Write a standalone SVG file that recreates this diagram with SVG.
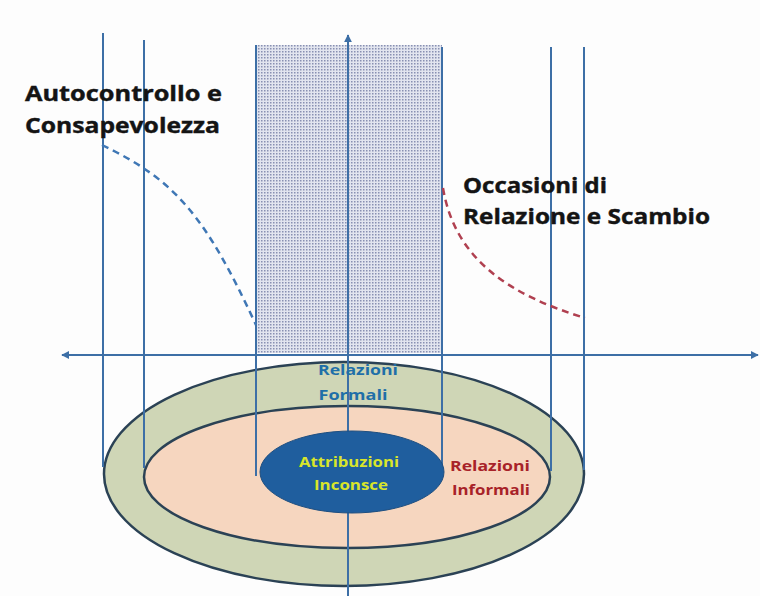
<svg xmlns="http://www.w3.org/2000/svg" width="760" height="596" viewBox="0 0 760 596">
<defs>
<style>
.ln{stroke:#3d6fa6;stroke-width:2;fill:none}
.ax{stroke:#3d6fa6;stroke-width:2;fill:none}
.ring{stroke:#2b4255;stroke-width:2.5}
.big{font-family:"Open Sans","Liberation Sans",sans-serif;font-weight:bold;font-size:21px;fill:#141414;stroke:#141414;stroke-width:0.4}
.lbl{font-family:"Open Sans","Liberation Sans",sans-serif;font-weight:bold;font-size:15px;text-anchor:middle}
</style>
<pattern id="dots" width="3" height="3" patternUnits="userSpaceOnUse">
<rect width="3" height="3" fill="#e2e5ef"/>
<rect x="0" y="0" width="1.5" height="1.5" fill="#8890b2"/>
</pattern>
<marker id="ah" viewBox="0 0 10 10" refX="9" refY="5" markerWidth="4" markerHeight="4" orient="auto-start-reverse">
<path d="M0,0 L10,5 L0,10 z" fill="#3d6fa6"/>
</marker>
</defs>
<rect width="760" height="596" fill="#fdfdfd"/>
<g id="shaded-zone"><rect x="256" y="45" width="186" height="308" fill="url(#dots)"/></g>
<g id="outer-ring"><ellipse cx="344" cy="474" rx="240" ry="112" fill="#cfd6b6" class="ring"/></g>
<g id="inner-ring"><ellipse cx="347" cy="477" rx="203" ry="71" fill="#f6d6bf" class="ring"/></g>
<g id="connectors">
<line class="ln" x1="103" y1="33" x2="103" y2="467"/>
<line class="ln" x1="144" y1="40" x2="144" y2="468"/>
<line class="ln" x1="256" y1="45" x2="256" y2="476"/>
<line class="ln" x1="442" y1="47" x2="442" y2="473"/>
<line class="ln" x1="551" y1="47" x2="551" y2="471"/>
<line class="ln" x1="584" y1="47" x2="584" y2="470"/>
<line class="ax" x1="348" y1="596" x2="348" y2="35" marker-end="url(#ah)"/>
<line class="ax" x1="62" y1="355" x2="758" y2="355" marker-start="url(#ah)" marker-end="url(#ah)"/>
<path d="M102,145 C175,180 205,215 256,325" fill="none" stroke="#3f77b5" stroke-width="2.5" stroke-dasharray="7,5"/>
<path d="M443,188 C455,260 510,295 585,318" fill="none" stroke="#b04050" stroke-width="2.5" stroke-dasharray="7,5"/>
</g>
<g id="core"><ellipse cx="352" cy="472" rx="92" ry="41" fill="#1f5e9e" stroke="#1f4f80" stroke-width="1"/>
<text class="lbl" x="349" y="467" fill="#d9e52a" textLength="100" lengthAdjust="spacingAndGlyphs">Attribuzioni</text>
<text class="lbl" x="351" y="490" fill="#d9e52a" textLength="74" lengthAdjust="spacingAndGlyphs">Inconsce</text></g>
<g id="label-formali"><text class="lbl" x="358" y="375" fill="#1f6fa8" textLength="80" lengthAdjust="spacingAndGlyphs">Relazioni</text>
<text class="lbl" x="353" y="400" fill="#1f6fa8" textLength="69" lengthAdjust="spacingAndGlyphs">Formali</text></g>
<g id="label-informali"><text class="lbl" x="490" y="471" fill="#a82228" textLength="80" lengthAdjust="spacingAndGlyphs">Relazioni</text>
<text class="lbl" x="491" y="495" fill="#a82228" textLength="78" lengthAdjust="spacingAndGlyphs">Informali</text></g>
<g id="label-autocontrollo"><text class="big" x="25" y="101" textLength="197" lengthAdjust="spacingAndGlyphs">Autocontrollo e</text>
<text class="big" x="25" y="133" textLength="195" lengthAdjust="spacingAndGlyphs">Consapevolezza</text></g>
<g id="label-occasioni"><text class="big" x="463" y="193" textLength="144" lengthAdjust="spacingAndGlyphs">Occasioni di</text>
<text class="big" x="463" y="224" textLength="247" lengthAdjust="spacingAndGlyphs">Relazione e Scambio</text></g>
</svg>
